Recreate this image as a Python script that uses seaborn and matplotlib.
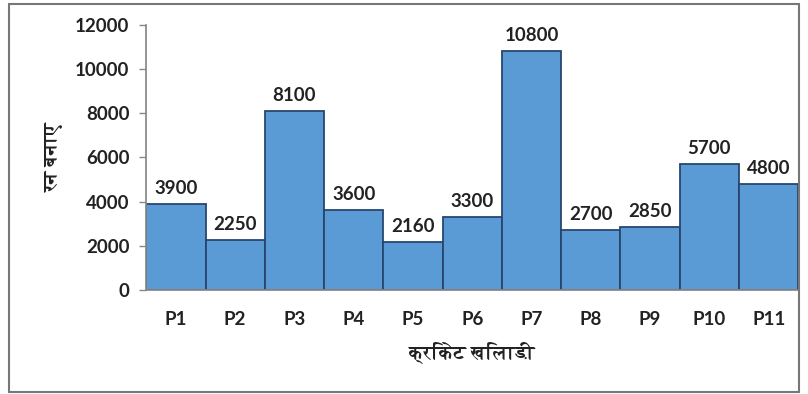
import matplotlib
matplotlib.use("Agg")
import matplotlib.pyplot as plt
from matplotlib import font_manager
from matplotlib.font_manager import FontProperties
from matplotlib.ft2font import FT2Font
from matplotlib.patches import Rectangle
import seaborn as sns
import pandas as pd

players = ["P1", "P2", "P3", "P4", "P5", "P6", "P7", "P8", "P9", "P10", "P11"]
runs = [3900, 2250, 8100, 3600, 2160, 3300, 10800, 2700, 2850, 5700, 4800]
y_ticks = [0, 2000, 4000, 6000, 8000, 10000, 12000]
x_title = "क्रिकेट खिलाड़ी"
y_title = "रन बनाए"

df = pd.DataFrame({"player": players, "runs": runs})


def devanagari_font(size):
    """Pick an installed font file with Devanagari glyphs, bold if possible."""
    found = []
    for f in font_manager.fontManager.ttflist:
        try:
            if 0x0915 in FT2Font(f.fname).get_charmap():
                w = f.weight if isinstance(f.weight, int) else 400
                found.append((abs(w - 700), f.fname))
        except Exception:
            continue
    if not found:
        return FontProperties(family="DejaVu Sans", size=size, weight="bold")
    found.sort()
    return FontProperties(fname=found[0][1], size=size)


sns.set_theme(style="white")
plt.rcParams["font.family"] = ["Lato", "DejaVu Sans"]

fig = plt.figure(figsize=(8.08, 3.94), dpi=100)
ax = fig.add_axes([0.181, 0.264, 0.807, 0.673])

sns.barplot(data=df, x="player", y="runs", color="#5b9bd5", saturation=1,
            width=1.0, edgecolor="#27466e", linewidth=1.3, ax=ax)

for i, v in enumerate(runs):
    ax.text(i, v + 330, str(v), ha="center", va="bottom",
            fontsize=13.5, fontweight="bold", color="#222222")

ax.set_xlim(-0.5, len(players) - 0.5)
ax.set_ylim(0, 12000)
ax.set_yticks(y_ticks)
ax.set_yticklabels([str(t) for t in y_ticks], fontsize=13.5, fontweight="bold",
                   color="#222222")
ax.tick_params(axis="x", length=0, pad=15, labelsize=13.5, labelcolor="#222222")
for lbl in ax.get_xticklabels():
    lbl.set_fontweight("bold")
ax.tick_params(axis="y", length=5, width=1, color="#888888", pad=7, left=True)

for s in ["top", "right"]:
    ax.spines[s].set_visible(False)
ax.spines["left"].set_color("#888888")
ax.spines["bottom"].set_color("#888888")

ax.set_xlabel(x_title, fontproperties=devanagari_font(14), color="#222222",
              labelpad=10)
ax.set_ylabel(y_title, fontproperties=devanagari_font(14), color="#222222",
              labelpad=8)

fig.patches.append(Rectangle((0.011, 0.005), 0.978, 0.985, transform=fig.transFigure,
                             fill=False, edgecolor="#777777", linewidth=1.5))

fig.savefig("out.png", dpi=100)
